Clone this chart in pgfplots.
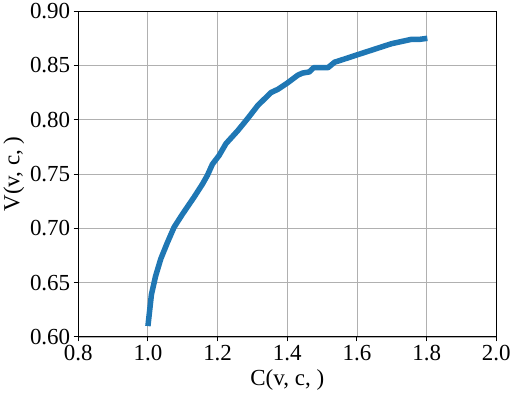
\documentclass[border=0pt]{standalone}
\usepackage{fontspec}
\setmainfont{Liberation Serif}
\usepackage{pgfplots}
\pgfplotsset{compat=1.18}
\definecolor{mplblue}{HTML}{1F77B4}

\begin{document}
\begin{tikzpicture}
\begin{axis}[
    scale only axis,
    width=417bp, height=325bp,
    xmin=0.8, xmax=2.0, ymin=0.60, ymax=0.90,
    xtick={0.8,1.0,...,2.0},
    ytick={0.60,0.65,...,0.90},
    xtick pos=bottom, ytick pos=left,
    grid=major,
    major grid style={draw=black!31, line width=0.9bp},
    axis line style={line width=1bp},
    tick align=outside,
    major tick length=4.5bp,
    tick style={black, line width=1bp},
    xticklabel style={/pgf/number format/.cd, fixed, fixed zerofill, precision=1},
    yticklabel style={/pgf/number format/.cd, fixed, fixed zerofill, precision=2},
    /pgf/number format/assume math mode=true,
    tick label style={font=\fontsize{23}{26}\selectfont},
    label style={font=\fontsize{23}{26}\selectfont},
    xlabel={C(v, c, )},
    ylabel={V(v, c, )},
    xlabel style={yshift=-2bp},
    ylabel style={yshift=-1bp},
]
\addplot[mplblue, line width=5.5bp, line join=round] coordinates {
(1.000,0.610) (1.010,0.639) (1.022,0.656) (1.037,0.672) (1.056,0.687)
(1.075,0.701) (1.099,0.713) (1.133,0.729) (1.157,0.741) (1.171,0.749)
(1.185,0.759) (1.204,0.767) (1.224,0.778) (1.258,0.790) (1.286,0.801)
(1.315,0.813) (1.353,0.825) (1.373,0.828) (1.401,0.834) (1.430,0.841)
(1.444,0.843) (1.463,0.844) (1.476,0.848) (1.493,0.848) (1.517,0.848)
(1.536,0.853) (1.565,0.856) (1.603,0.860) (1.651,0.865) (1.699,0.870)
(1.756,0.874) (1.780,0.874) (1.802,0.875)
};
\end{axis}
\end{tikzpicture}
\end{document}
